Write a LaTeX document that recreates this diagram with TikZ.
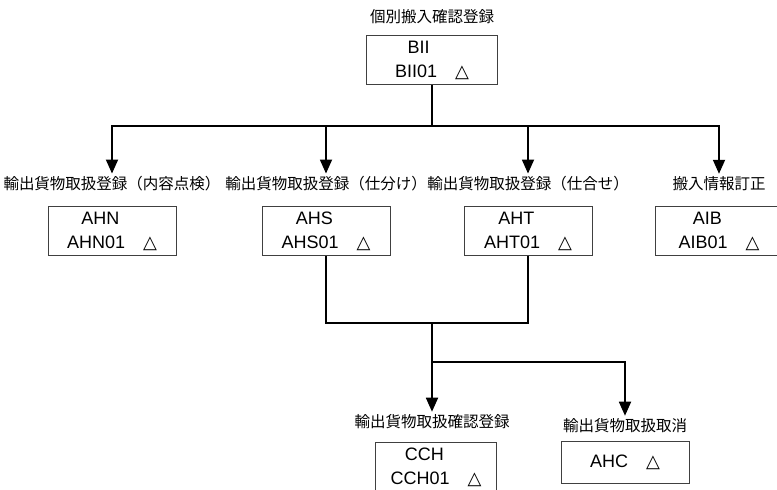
\documentclass[tikz,border=0pt]{standalone}
\usepackage{fontspec}
\setmainfont{Liberation Sans}
\newfontfamily\jpfont{Noto Sans CJK JP}
\newfontfamily\symfont{DejaVu Sans}
\usetikzlibrary{arrows.meta, positioning}
\newcommand{\tri}{{\symfont\fontsize{18}{18}\selectfont △}}

\begin{document}
\begin{tikzpicture}[
		    x=1pt, y=-1pt,
		    every node/.style={inner sep=0pt}
		]
		\tikzset{
		    kbox/.style={draw=black!75, line width=1pt, minimum width=128pt, minimum height=49pt,
		        align=left, font=\fontsize{18}{24}\selectfont},
		    kname/.style={anchor=base, font=\jpfont\fontsize{15.5}{18}\selectfont},
		    flow/.style={line width=1.8pt},
		    flowarrow/.style={flow, shorten >=2pt, -{Triangle[width=12pt,length=14pt]}}
		}
		\useasboundingbox (0,0) rectangle (777,490);
		% top
		\node[kname] (lblbii) at (432,22) {個別搬入確認登録};
		\node[kbox, anchor=north, minimum width=131pt] (bii) at (432,35) {\hspace{0.7em}BII\\BII01\quad\tri};
		% first row
		\node[kname] (lblahn) at (112,189) {輸出貨物取扱登録（内容点検）};
		\node[kname] (lblahs) at (326,189) {輸出貨物取扱登録（仕分け）};
		\node[kname] (lblaht) at (528,189) {輸出貨物取扱登録（仕合せ）};
		\node[kname] (lblaib) at (719,189) {搬入情報訂正};
		\node[kbox, anchor=north] (ahn) at (112,206) {\hspace{0.8em}AHN\\AHN01\quad\tri};
		\node[kbox, anchor=north] (ahs) at (326,206) {\hspace{0.8em}AHS\\AHS01\quad\tri};
		\node[kbox, anchor=north] (aht) at (528,206) {\hspace{0.8em}AHT\\AHT01\quad\tri};
		\node[kbox, anchor=north] (aib) at (719,206) {\hspace{0.8em}AIB\\AIB01\quad\tri};
		% second row
		\node[kname] (lblcch) at (432,427) {輸出貨物取扱確認登録};
		\node[kname] (lblahc) at (625,431) {輸出貨物取扱取消};
		\node[kbox, anchor=north, minimum width=121pt] (cch) at (436,442) {\hspace{0.8em}CCH\\CCH01\quad\tri};
		\node[kbox, anchor=north, minimum height=42pt] (ahc) at (625,441) {AHC\quad\tri};
		% connectors
		\coordinate (top) at (432,126);
		\coordinate (join) at (432,323);
		\coordinate (fork) at (432,362);
		\draw[flow] (bii.south) -- (top);
		\draw[flowarrow] (top) -| (lblahn.north);
		\draw[flowarrow] (top) -| (lblahs.north);
		\draw[flowarrow] (top) -| (lblaht.north);
		\draw[flowarrow] (top) -| (lblaib.north);
		\draw[flow] (ahs.south) |- (join);
		\draw[flow] (aht.south) |- (join);
		\draw[flow] (join) -- (fork);
		\draw[flowarrow] (fork) -- (lblcch.north);
		\draw[flowarrow] (fork) -| (lblahc.north);
\end{tikzpicture}
\end{document}
